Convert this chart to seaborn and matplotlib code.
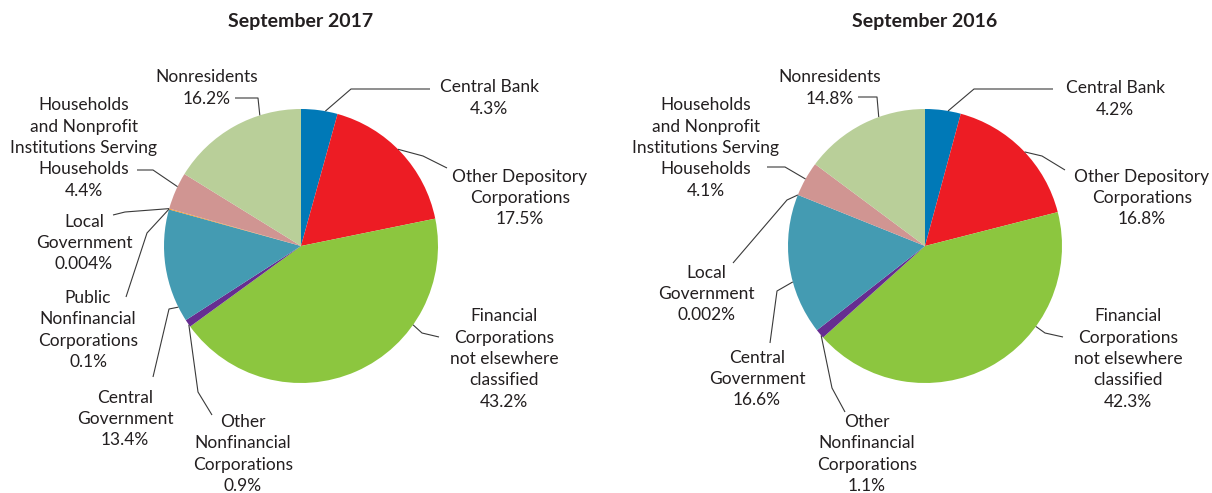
import matplotlib
matplotlib.use("Agg")
import matplotlib.pyplot as plt
import numpy as np
import seaborn as sns

# ---- data -------------------------------------------------------------
titles = ["September 2017", "September 2016"]

sectors_2017 = [
    "Central Bank",
    "Other Depository\nCorporations",
    "Financial\nCorporations\nnot elsewhere\nclassified",
    "Other\nNonfinancial\nCorporations",
    "Central\nGovernment",
    "Public\nNonfinancial\nCorporations",
    "Local\nGovernment",
    "Households\nand Nonprofit\nInstitutions Serving\nHouseholds",
    "Nonresidents",
]
shares_2017 = [4.3, 17.5, 43.2, 0.9, 13.4, 0.1, 0.004, 4.4, 16.2]

sectors_2016 = [
    "Central Bank",
    "Other Depository\nCorporations",
    "Financial\nCorporations\nnot elsewhere\nclassified",
    "Other\nNonfinancial\nCorporations",
    "Central\nGovernment",
    "Local\nGovernment",
    "Households\nand Nonprofit\nInstitutions Serving\nHouseholds",
    "Nonresidents",
]
shares_2016 = [4.2, 16.8, 42.3, 1.1, 16.6, 0.002, 4.1, 14.8]

sector_colors = {
    "Central Bank": "#0079b7",
    "Other Depository\nCorporations": "#ed1c24",
    "Financial\nCorporations\nnot elsewhere\nclassified": "#8cc63f",
    "Other\nNonfinancial\nCorporations": "#662d91",
    "Central\nGovernment": "#449bb2",
    "Public\nNonfinancial\nCorporations": "#f7941d",
    "Local\nGovernment": "#c8a060",
    "Households\nand Nonprofit\nInstitutions Serving\nHouseholds": "#d09592",
    "Nonresidents": "#b9cf99",
}

# ---- layout (pixel space, y measured from the top) --------------------
W, H = 1212, 493
pie_centers = [(301, 246), (925, 246)]
pie_radius = 137

# per label: text centre, position along the wedge (0..1 clockwise),
# elbow of the leader line, and where the leader meets the text
label_layout_2017 = [
    dict(text=(489, 98), frac=0.66, elbow=(351, 89), end=(430, 89)),
    dict(text=(520, 198), frac=0.47, elbow=(423, 156), end=(447, 168)),
    dict(text=(504, 359), frac=0.30, elbow=(422, 333), end=(439, 337)),
    dict(text=(243, 454), frac=0.30, elbow=(198, 392), end=(212, 415)),
    dict(text=(125, 419), frac=0.13, elbow=(169, 309), end=(153, 377)),
    dict(text=(88, 330), frac=0.50, elbow=(147, 233), end=(126, 297)),
    dict(text=(84, 243), frac=0.50, elbow=(125, 212), end=(113, 215)),
    dict(text=(84, 148), frac=0.62, elbow=(153, 170), end=(137, 170)),
    dict(text=(207, 88), frac=0.70, elbow=(258, 98), end=(235, 98)),
]
label_layout_2016 = [
    dict(text=(1115, 99), frac=0.64, elbow=(974, 89), end=(1053, 89)),
    dict(text=(1142, 198), frac=0.52, elbow=(1042, 156), end=(1065, 170)),
    dict(text=(1128, 359), frac=0.33, elbow=(1045, 333), end=(1063, 337)),
    dict(text=(867, 454), frac=0.30, elbow=(832, 388), end=(845, 412)),
    dict(text=(757, 379), frac=0.38, elbow=(777, 291), end=(770, 343)),
    dict(text=(706, 294), frac=0.50, elbow=(787, 200), end=(733, 263)),
    dict(text=(706, 148), frac=0.50, elbow=(785, 167), end=(767, 167)),
    dict(text=(830, 88), frac=0.63, elbow=(877, 97), end=(858, 97)),
]

TEXT_COLOR = "#231f20"
LINE_COLOR = "#3a3a3a"

sns.set_theme(style="white")
plt.rcParams["font.family"] = ["Lato", "DejaVu Sans"]

fig = plt.figure(figsize=(W / 100, H / 100), dpi=100)
ax = fig.add_axes([0, 0, 1, 1])


def fy(py):
    """Convert a top-down pixel row into the axes' y coordinate."""
    return H - py


panels = [
    (sectors_2017, shares_2017, label_layout_2017),
    (sectors_2016, shares_2016, label_layout_2016),
]

for (sectors, shares, layout), (cx, cy), title in zip(panels, pie_centers, titles):
    wedges, _ = ax.pie(
        shares,
        colors=[sector_colors[s] for s in sectors],
        startangle=90,
        counterclock=False,
        center=(cx, fy(cy)),
        radius=pie_radius,
        wedgeprops=dict(linewidth=0),
    )
    ax.text(cx, fy(22), title, ha="center", va="center",
            fontsize=14, fontweight="bold", color=TEXT_COLOR)

    for wedge, name, value, spec in zip(wedges, sectors, shares, layout):
        # anchor on the rim, measured clockwise from the wedge's leading edge
        ang = wedge.theta2 - spec["frac"] * (wedge.theta2 - wedge.theta1)
        ax_ = cx + pie_radius * np.cos(np.radians(ang))
        ay_ = fy(cy) + pie_radius * np.sin(np.radians(ang))
        ex, ey = spec["elbow"]
        tx, ty = spec["end"]
        ax.plot([ax_, ex, tx], [ay_, fy(ey), fy(ty)],
                color=LINE_COLOR, lw=0.8, solid_capstyle="butt")
        lx, ly = spec["text"]
        ax.text(lx, fy(ly), f"{name}\n{value:g}%", ha="center", va="center",
                fontsize=12.5, linespacing=1.42, color=TEXT_COLOR)

ax.set_xlim(0, W)
ax.set_ylim(0, H)
ax.set_aspect("auto")
ax.axis("off")

fig.savefig("out.png", dpi=100, facecolor="white")
